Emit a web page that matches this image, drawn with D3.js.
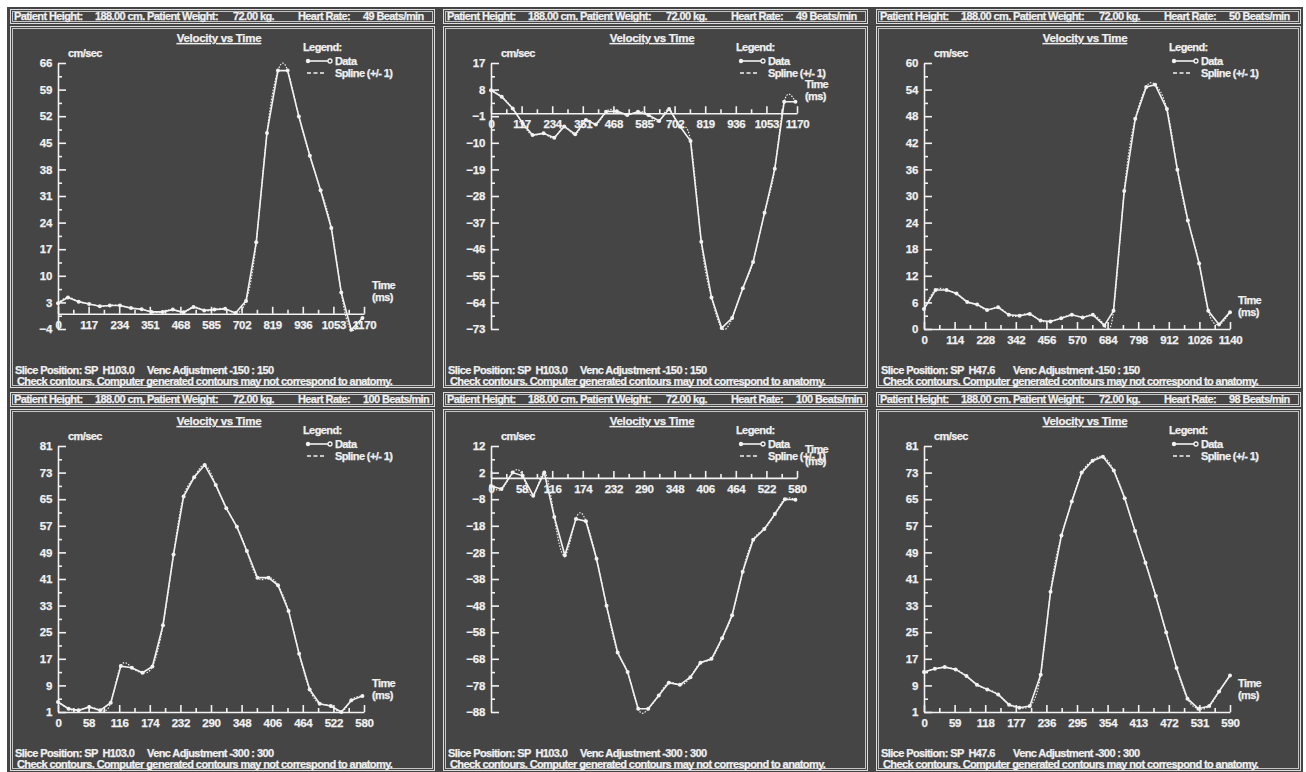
<!DOCTYPE html>
<html>
<head>
<meta charset="utf-8">
<script src="https://cdn.jsdelivr.net/npm/d3@7"></script>
<style>
  html, body { margin: 0; padding: 0; background: #fff; }
  svg { display: block; }
  text { font-family: "Liberation Sans", Arial, sans-serif; font-weight: bold; fill: #f0f0f0;
         stroke: #f0f0f0; stroke-width: 0.25px; white-space: pre; }
</style>
</head>
<body>
<svg id="chart" width="1306" height="772"></svg>
<script>
// ---- Patient / acquisition info per panel (row-major: top row, then bottom row)
const heartRates = [49, 49, 50, 100, 100, 98];
const slicePositions = ["SP  H103.0", "SP  H103.0", "SP  H47.6", "SP  H103.0", "SP  H103.0", "SP  H47.6"];
const vencRanges = ["-150 : 150", "-150 : 150", "-150 : 150", "-300 : 300", "-300 : 300", "-300 : 300"];
const patientHeight = "188.00";
const patientWeight = "72.00";

// ---- Axis tick labels
const yTicksA = [-4, 3, 10, 17, 24, 31, 38, 45, 52, 59, 66];
const yTicksB = [-73, -64, -55, -46, -37, -28, -19, -10, -1, 8, 17];
const yTicksC = [0, 6, 12, 18, 24, 30, 36, 42, 48, 54, 60];
const yTicksD = [1, 9, 17, 25, 33, 41, 49, 57, 65, 73, 81];
const yTicksE = [-88, -78, -68, -58, -48, -38, -28, -18, -8, 2, 12];
const yTicksF = [1, 9, 17, 25, 33, 41, 49, 57, 65, 73, 81];

const xTicksA = [0, 117, 234, 351, 468, 585, 702, 819, 936, 1053, 1170];
const xTicksB = [0, 117, 234, 351, 468, 585, 702, 819, 936, 1053, 1170];
const xTicksC = [0, 114, 228, 342, 456, 570, 684, 798, 912, 1026, 1140];
const xTicksD = [0, 58, 116, 174, 232, 290, 348, 406, 464, 522, 580];
const xTicksE = [0, 58, 116, 174, 232, 290, 348, 406, 464, 522, 580];
const xTicksF = [0, 59, 118, 177, 236, 295, 354, 413, 472, 531, 590];

// ---- Velocity samples (time in ms, velocity in cm/sec)
const timeA = [0, 38, 79, 119, 160, 198, 237, 279, 320, 358, 400, 439, 480, 518, 559, 598, 639, 679, 719, 758, 799, 841, 878, 921, 963, 1004, 1045, 1083, 1121, 1164];
const velA  = [2.8, 4.3, 3.2, 2.6, 2.0, 2.2, 2.2, 1.5, 1.2, 0.5, 0.5, 1.1, 0.4, 1.8, 0.9, 1.1, 1.3, 0.2, 3.4, 18.8, 47.6, 64.0, 64.0, 51.9, 41.6, 32.5, 22.6, 5.6, -4.2, -1.1];

const timeB = [0, 41, 83, 121, 159, 201, 242, 280, 322, 363, 401, 440, 481, 521, 562, 602, 643, 681, 723, 763, 804, 843, 882, 922, 963, 1002, 1046, 1085, 1121, 1164];
const velB  = [7.8, 5.6, 1.6, -3.4, -7.4, -6.8, -8.3, -4.5, -7.1, -2.3, -3.8, 0.5, 0.7, -0.6, 0.5, -0.6, -2.6, 1.4, -4.5, -9.4, -43.5, -62.3, -72.7, -69.3, -59.2, -50.3, -33.7, -18.8, 3.9, 3.9];

const timeC = [0, 43, 84, 121, 161, 198, 235, 276, 316, 356, 394, 434, 471, 511, 551, 591, 629, 672, 706, 746, 787, 828, 861, 905, 944, 983, 1025, 1059, 1099, 1140];
const velC  = [4.5, 8.8, 8.8, 8.0, 6.1, 5.5, 4.3, 4.9, 3.2, 3.0, 3.4, 1.9, 1.7, 2.4, 3.2, 2.6, 3.2, 0.8, 4.1, 31.1, 47.4, 54.6, 55.1, 49.6, 35.9, 24.5, 14.8, 4.1, 1.0, 3.8];

const timeD = [0, 20, 39, 59, 80, 100, 119, 140, 160, 179, 199, 219, 238, 258, 278, 299, 319, 339, 358, 378, 399, 417, 437, 457, 477, 496, 517, 537, 556, 577];
const velD  = [4.0, 2.0, 1.5, 2.5, 1.5, 3.8, 14.8, 14.3, 12.8, 14.7, 27.1, 48.4, 65.8, 71.6, 75.3, 69.3, 62.3, 56.7, 49.4, 41.4, 41.4, 39.1, 31.4, 18.5, 7.8, 3.5, 2.8, 1.0, 4.5, 5.8];

const timeE = [0, 20, 41, 60, 80, 101, 120, 140, 161, 180, 200, 219, 240, 259, 279, 298, 318, 337, 358, 378, 397, 418, 438, 457, 477, 497, 518, 538, 557, 577];
const velE  = [-3.0, -4.2, 2.0, 0.8, -6.7, 2.0, -14.7, -29.1, -15.4, -16.3, -30.4, -48.1, -65.6, -73.0, -86.8, -86.8, -81.8, -77.0, -77.8, -74.9, -69.5, -68.0, -60.3, -51.6, -35.3, -23.2, -19.2, -13.6, -8.0, -8.2];

const timeF = [0, 21, 40, 61, 82, 102, 122, 143, 164, 184, 204, 225, 244, 265, 285, 304, 325, 345, 366, 387, 407, 427, 447, 467, 487, 508, 529, 550, 569, 590];
const velF  = [13.0, 14.0, 14.5, 13.8, 11.8, 9.2, 7.8, 6.3, 3.2, 2.3, 2.8, 12.2, 37.2, 54.1, 64.3, 73.0, 76.6, 77.8, 73.6, 65.3, 55.4, 45.9, 35.9, 24.9, 14.2, 5.0, 2.0, 2.8, 7.2, 12.0];

const yTickSets = [yTicksA, yTicksB, yTicksC, yTicksD, yTicksE, yTicksF];
const xTickSets = [xTicksA, xTicksB, xTicksC, xTicksD, xTicksE, xTicksF];
const timeSets  = [timeA, timeB, timeC, timeD, timeE, timeF];
const velSets   = [velA, velB, velC, velD, velE, velF];

// ---- Drawing
const svg = d3.select("#chart");
const INK = "#f2f2f2";
const BG = "#454545";
const FONT = "\"Liberation Sans\", Arial, sans-serif";

svg.append("rect").attr("width", 1306).attr("height", 772).attr("fill", "#fff");
svg.append("rect").attr("x", 7).attr("y", 7).attr("width", 1296).attr("height", 765).attr("fill", BG);

function doubleBox(g, x, y, w, h) {
  g.append("rect").attr("x", x + 0.5).attr("y", y + 0.5).attr("width", w).attr("height", h)
    .attr("fill", "none").attr("stroke", "#dcdcdc").attr("stroke-width", 1);
  g.append("rect").attr("x", x + 2.5).attr("y", y + 2.5).attr("width", w - 4).attr("height", h - 4)
    .attr("fill", "none").attr("stroke", "#c4c4c4").attr("stroke-width", 1);
}

function label(g, x, yc, str, opts = {}) {
  return g.append("text")
    .attr("x", x).attr("y", yc).attr("dy", "0.35em")
    .attr("font-size", opts.size || 11)
    .attr("letter-spacing", opts.ls != null ? opts.ls : -0.6)
    .attr("text-anchor", opts.anchor || "start")
    .text(str);
}

for (let i = 0; i < 6; i++) {
  const col = i % 3, row = Math.floor(i / 3);
  const bx = 10 + col * 433;
  const by = 26 + row * 383;
  const bw = 424, bh = 361;
  const g = svg.append("g");

  // header strip
  doubleBox(g, bx, by - 17, bw, 14);
  const hy = by - 9.5;
  label(g, bx + 4, hy, "Patient Height:");
  label(g, bx + 85, hy, patientHeight + " cm. Patient Weight:");
  label(g, bx + 223, hy, patientWeight + " kg.");
  label(g, bx + 288, hy, "Heart Rate:");
  label(g, bx + 353, hy, heartRates[i] + " Beats/min");

  // plot frame
  doubleBox(g, bx, by, bw, bh);

  // title
  label(g, bx + 209, by + 12, "Velocity vs Time", { size: 11.5, anchor: "middle", ls: -0.3 })
    .style("text-decoration", "underline");

  const yT = yTickSets[i], xT = xTickSets[i];
  const x = d3.scaleLinear().domain([xT[0], xT[xT.length - 1]]).range([bx + 48, bx + 354]);
  const y = d3.scaleLinear().domain([yT[0], yT[yT.length - 1]]).range([by + 303, by + 37]);
  const yMid = d3.pairs(yT).map(([a, b]) => (a + b) / 2);
  const xMid = d3.pairs(xT).map(([a, b]) => (a + b) / 2);
  const zeroY = y(Math.max(yT[0], Math.min(0, yT[yT.length - 1])));

  // y axis: ticks to the inside, labels on the left
  g.append("g").attr("transform", `translate(${x(xT[0])},0)`)
    .call(d3.axisLeft(y).tickValues(yT).tickSizeInner(-8).tickSizeOuter(0).tickPadding(6).tickFormat(d3.format("d")));
  g.append("g").attr("transform", `translate(${x(xT[0])},0)`)
    .call(d3.axisLeft(y).tickValues(yMid).tickSizeInner(-4).tickSizeOuter(0).tickFormat(""))
    .select(".domain").remove();

  // x axis at zero velocity: ticks upward, labels underneath
  g.append("g").attr("transform", `translate(0,${zeroY})`)
    .call(d3.axisBottom(x).tickValues(xT).tickSizeInner(-7).tickSizeOuter(0).tickPadding(7).tickFormat(d3.format("d")));
  g.append("g").attr("transform", `translate(0,${zeroY})`)
    .call(d3.axisBottom(x).tickValues(xMid).tickSizeInner(-4).tickSizeOuter(0).tickFormat(""))
    .select(".domain").remove();

  g.selectAll(".domain, .tick line").attr("stroke", INK).attr("stroke-width", 1.6);
  g.selectAll(".tick text").attr("fill", INK).attr("font-size", 11.5).attr("letter-spacing", -0.3)
    .attr("font-family", FONT).attr("font-weight", "bold");

  // axis captions
  label(g, bx + 58, by + 27, "cm/sec");
  label(g, x(xT[xT.length - 1]) + 8, zeroY - 29, "Time");
  label(g, x(xT[xT.length - 1]) + 8, zeroY - 17, "(ms)");

  // legend
  label(g, bx + 293, by + 21, "Legend:");
  g.append("line").attr("x1", bx + 298).attr("x2", bx + 319).attr("y1", by + 35).attr("y2", by + 35)
    .attr("stroke", INK).attr("stroke-width", 1.6);
  g.append("circle").attr("cx", bx + 298).attr("cy", by + 35).attr("r", 2.2).attr("fill", INK);
  g.append("circle").attr("cx", bx + 320).attr("cy", by + 35).attr("r", 2).attr("fill", BG).attr("stroke", INK).attr("stroke-width", 1.3);
  label(g, bx + 325, by + 35, "Data");
  g.append("line").attr("x1", bx + 297).attr("x2", bx + 316).attr("y1", by + 47).attr("y2", by + 47)
    .attr("stroke", INK).attr("stroke-width", 1.3).attr("stroke-dasharray", "4,2.5");
  label(g, bx + 325, by + 47, "Spline (+/- 1)");

  // series: dashed spline under the sampled polyline and its points
  const pts = timeSets[i].map((t, k) => ({ t, v: velSets[i][k] }));
  const spline = d3.line().x(d => x(d.t)).y(d => y(d.v)).curve(d3.curveNatural);
  const poly = d3.line().x(d => x(d.t)).y(d => y(d.v));
  g.append("path").attr("d", spline(pts)).attr("fill", "none").attr("stroke", INK)
    .attr("stroke-width", 1.2).attr("stroke-dasharray", "1.5,1.5");
  g.append("path").attr("d", poly(pts)).attr("fill", "none").attr("stroke", INK).attr("stroke-width", 1.6);
  g.selectAll("circle.pt").data(pts).join("circle").attr("class", "pt")
    .attr("cx", d => x(d.t)).attr("cy", d => y(d.v)).attr("r", 2).attr("fill", INK);

  // footer
  label(g, bx + 5, by + 344, "Slice Position: " + slicePositions[i]);
  label(g, bx + 137, by + 344, "Venc Adjustment " + vencRanges[i]);
  label(g, bx + 7, by + 355.5, "Check contours. Computer generated contours may not correspond to anatomy.");
}
</script>
</body>
</html>
